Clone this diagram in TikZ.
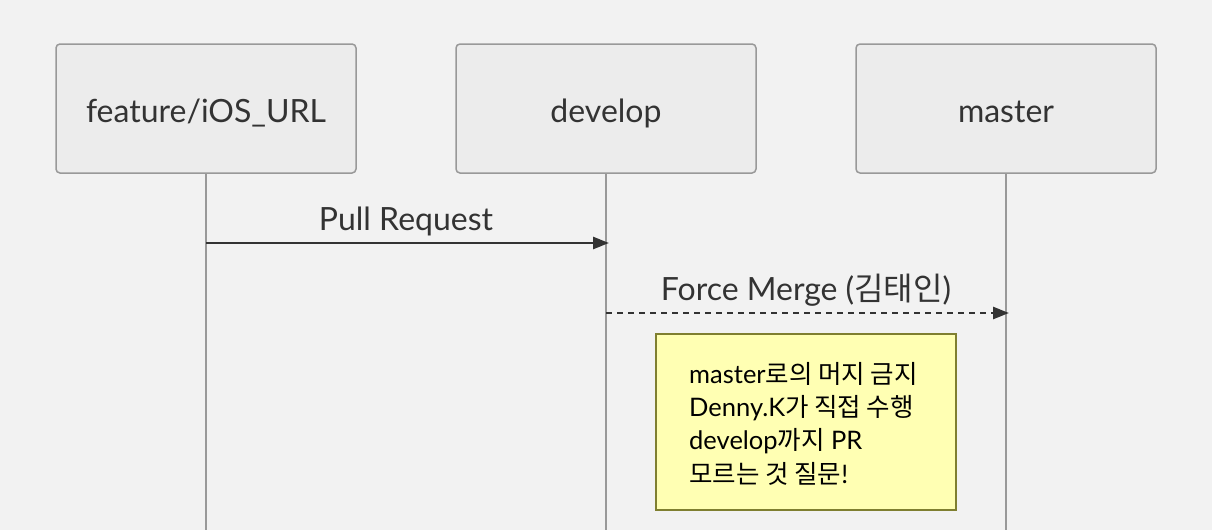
\documentclass[tikz,border=0pt]{standalone}
\usepackage{fontspec}
\setmainfont{Lato}
\newfontfamily\kr{Noto Sans CJK KR}
\usetikzlibrary{arrows.meta}
\definecolor{bg}{HTML}{F2F2F2}
\definecolor{boxfill}{HTML}{ECECEC}
\definecolor{boxline}{HTML}{999999}
\definecolor{txt}{HTML}{333333}
\definecolor{notefill}{HTML}{FFFFB3}
\definecolor{noteline}{HTML}{7F7F30}
\tikzset{
  actor/.style={draw=boxline, fill=boxfill, line width=1.5pt, rounded corners=4pt,
    minimum width=300pt, minimum height=129pt, inner sep=0pt},
  actortext/.style={text=txt, font=\fontsize{32}{38}\selectfont, inner sep=0pt, anchor=base},
  lifeline/.style={draw=boxline, line width=1.2pt},
  msg/.style={draw=txt, line width=2.6pt, -{Triangle[length=16pt,width=12pt]}},
  msglabel/.style={text=txt, font=\fontsize{32}{38}\selectfont, inner sep=0pt, anchor=base},
  notebox/.style={draw=noteline, fill=notefill, line width=1.8pt,
    minimum width=300pt, minimum height=176pt, inner sep=0pt},
  notetext/.style={text=black, font=\fontsize{25.5}{33.3}\selectfont, align=left, inner sep=0pt}
}
\begin{document}
\begin{tikzpicture}[x=1pt,y=-1pt]
\fill[bg] (0,0) rectangle (1212,530);
\useasboundingbox (0,0) rectangle (1212,530);
% lifelines
\coordinate (fe) at (206,530);
\coordinate (de) at (606,530);
\coordinate (me) at (1006,530);
\node[actor] (feat) at (206,108.5) {};
\node[actor] (dev) at (606,108.5) {};
\node[actor] (mast) at (1006,108.5) {};
\node[actortext] (featt) at (206,122) {feature/iOS\_URL};
\node[actortext] (devt) at (606,122) {develop};
\node[actortext] (mastt) at (1006,122) {master};
\draw[lifeline] (feat.south) -- (fe);
\draw[lifeline] (dev.south) -- (de);
\draw[lifeline] (mast.south) -- (me);
% messages
\coordinate (p1) at (206,243);
\coordinate (p2) at (609,243);
\coordinate (f1) at (606,313);
\coordinate (f2) at (1009,313);
\draw[msg] (p1) -- (p2);
\node[msglabel] (pl) at (406,230) {Pull Request};
\draw[msg, dash pattern=on 6pt off 5pt] (f1) -- (f2);
\node[msglabel] (fl) at (806,300) {Force Merge ({\kr 김태인})};
% note
\node[notebox] (note) at (806,422) {};
\node[notetext, anchor=base west] (nt) at (689,483) {master{\kr 로의 머지 금지}\\Denny.K{\kr 가 직접 수행}\\develop{\kr 까지} PR\\{\kr 모르는 것 질문}!};
\end{tikzpicture}
\end{document}
